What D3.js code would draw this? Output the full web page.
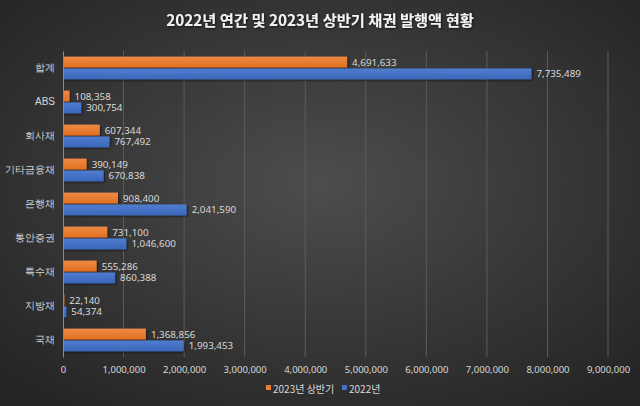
<!DOCTYPE html>
<html><head><meta charset="utf-8">
<script src="https://cdn.jsdelivr.net/npm/d3@7"></script>
<style>body{margin:0;background:#333;}svg{display:block;font-family:"Noto Sans CJK KR","Noto Sans",sans-serif;}</style>
</head><body>
<svg id="c" width="640" height="406"></svg>
<script>
const categories = ["합계","ABS","회사채","기타금융채","은행채","통안증권","특수채","지방채","국채"];
const seriesNames = ["2023년 상반기","2022년"];
const values2023H1 = [4691633,108358,607344,390149,908400,731100,555286,22140,1368856];
const values2022 = [7735489,300754,767492,670838,2041590,1046600,860388,54374,1993453];
const xTicks = [0,1000000,2000000,3000000,4000000,5000000,6000000,7000000,8000000,9000000];
const title = "2022년 연간 및 2023년 상반기 채권 발행액 현황";

const svg = d3.select("#c");
const W=640,H=406;
const defs = svg.append("defs");
const bg = defs.append("radialGradient").attr("id","bg").attr("cx","50%").attr("cy","45%").attr("r","70%");
bg.append("stop").attr("offset","0%").attr("stop-color","#4d4d4d");
bg.append("stop").attr("offset","100%").attr("stop-color","#242424");
const colors = ["#ED7D31","#4472C4"];
const g1 = defs.append("linearGradient").attr("id","go").attr("x1",0).attr("y1",0).attr("x2",0).attr("y2",1);
g1.append("stop").attr("offset","0%").attr("stop-color","#f08a45");
g1.append("stop").attr("offset","100%").attr("stop-color","#e0701f");
const g2 = defs.append("linearGradient").attr("id","gb").attr("x1",0).attr("y1",0).attr("x2",0).attr("y2",1);
g2.append("stop").attr("offset","0%").attr("stop-color","#4f7dd0");
g2.append("stop").attr("offset","100%").attr("stop-color","#3a66b8");
const fills=["url(#go)","url(#gb)"];
const sh = defs.append("filter").attr("id","sh").attr("x","-10%").attr("y","-30%").attr("width","130%").attr("height","180%");
sh.append("feDropShadow").attr("dx",1).attr("dy",1).attr("stdDeviation",0.8).attr("flood-color","#000").attr("flood-opacity",0.6);

svg.append("rect").attr("width",W).attr("height",H).attr("fill","url(#bg)");

const x = d3.scaleLinear().domain([0,9000000]).range([63,608]);
const y = d3.scaleBand().domain(categories).range([51,357]).paddingInner(0.33).paddingOuter(0.165);
const ys = d3.scaleBand().domain([0,1]).range([0,y.bandwidth()]).paddingInner(0.08);

// gridlines
svg.append("g").selectAll("line").data(xTicks.slice(1)).join("line")
  .attr("x1",d=>x(d)).attr("x2",d=>x(d)).attr("y1",51).attr("y2",357)
  .attr("stroke","#5c5c5c").attr("stroke-width",1);

// x tick labels via axis
const xa = svg.append("g").attr("transform","translate(0,357)")
  .call(d3.axisBottom(x).tickValues(xTicks).tickFormat(d3.format(",")).tickSize(0).tickPadding(9));
xa.select(".domain").remove();
xa.selectAll("text").attr("fill","#d9d9d9").attr("font-size","9.5px").attr("font-family","'Noto Sans','Open Sans',sans-serif");

// y axis
const ya = svg.append("g").attr("transform","translate(63,0)")
  .call(d3.axisLeft(y).tickSize(0).tickPadding(8));
ya.select(".domain").attr("stroke","#8a8a8a");
ya.selectAll("text").attr("fill","#d9d9d9").attr("font-size","10px");

const data = categories.map((c,i)=>({c, v:[values2023H1[i],values2022[i]]}));
const gb = svg.append("g").selectAll("g").data(data).join("g").attr("transform",d=>`translate(0,${y(d.c)})`);
[0,1].forEach(s=>{
  gb.append("rect").attr("x",x(0)).attr("y",ys(s)).attr("height",ys.bandwidth())
    .attr("width",d=>x(d.v[s])-x(0)).attr("fill",fills[s]).attr("filter","url(#sh)");
  gb.append("text").attr("x",d=>x(d.v[s])+5).attr("y",ys(s)+ys.bandwidth()/2).attr("dy","0.35em")
    .attr("fill","#d9d9d9").attr("font-size","9.8px").attr("font-family","'Noto Sans','Open Sans',sans-serif")
    .text(d=>d3.format(",")(d.v[s]));
});
ya.raise();

// title
svg.append("text").attr("x",320).attr("y",26).attr("text-anchor","middle")
  .attr("fill","#f2f2f2").attr("font-size","15.3px").attr("font-weight","bold")
  .attr("filter","url(#sh)").text(title);

// legend
const lg = svg.append("g").attr("transform","translate(0,389)");
const lx=[266,342];
seriesNames.forEach((n,i)=>{
  lg.append("rect").attr("x",lx[i]).attr("y",-4).attr("width",5).attr("height",5).attr("fill",colors[i]);
  lg.append("text").attr("x",lx[i]+7).attr("y",0).attr("dy","0.35em").attr("fill","#d9d9d9").attr("font-size","10px").text(n);
});
</script>
</body></html>
